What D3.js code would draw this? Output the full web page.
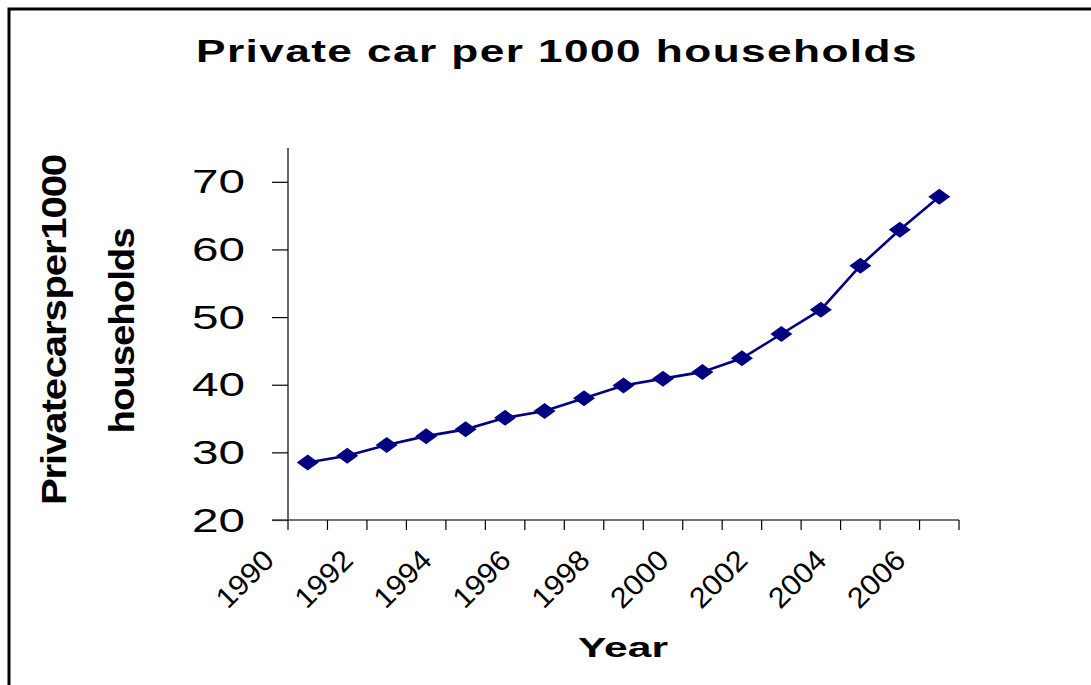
<!DOCTYPE html>
<html>
<head>
<meta charset="utf-8">
<script src="https://cdn.jsdelivr.net/npm/d3@7"></script>
<style>
  html, body { margin: 0; padding: 0; background: #fff; }
  svg { display: block; }
  text { font-family: "Liberation Sans", Arial, sans-serif; fill: #000; }
</style>
</head>
<body>
<svg id="chart" width="1091" height="685"></svg>
<script>
const years = [1990, 1991, 1992, 1993, 1994, 1995, 1996, 1997, 1998, 1999, 2000, 2001, 2002, 2003, 2004, 2005, 2006];
const carsPer1000 = [28.5, 29.5, 31.1, 32.4, 33.4, 35.1, 36.1, 38.0, 39.9, 40.9, 41.9, 43.9, 47.5, 51.1, 57.6, 62.9, 67.8];
const yTicks = [20, 30, 40, 50, 60, 70];
const xTickLabels = [1990, 1992, 1994, 1996, 1998, 2000, 2002, 2004, 2006];
const titleText = "Private car per 1000 households";
const xTitle = "Year";
const yTitleLines = ["Private cars per 1000", "households"];

const svg = d3.select("#chart");

// outer frame
svg.append("rect")
  .attr("x", 9).attr("y", 9).attr("width", 1200).attr("height", 800)
  .attr("fill", "none").attr("stroke", "#000").attr("stroke-width", 3);

const x = d3.scaleBand().domain(years).range([288, 959]).padding(0);
const y = d3.scaleLinear().domain([20, 75]).range([520, 148]);
const cx = d => x(d) + x.bandwidth() / 2;

// title
svg.append("text")
  .attr("x", 196).attr("y", 62)
  .attr("font-size", 31).attr("font-weight", "bold")
  .attr("letter-spacing", 1)
  .attr("textLength", 722).attr("lengthAdjust", "spacingAndGlyphs")
  .text(titleText);

// y axis
const yAxis = d3.axisLeft(y).tickValues(yTicks).tickSize(16).tickFormat("");
const gy = svg.append("g").attr("transform", "translate(288,0)").call(yAxis);
gy.select(".domain").attr("stroke", "#000").attr("stroke-width", 1.2)
  .attr("d", `M0,${y(75)}V${y(20)}`);
gy.selectAll(".tick line").attr("stroke", "#000").attr("stroke-width", 1.2);

svg.append("g").selectAll("text").data(yTicks).join("text")
  .attr("x", 245).attr("y", d => y(d) + 11.5)
  .attr("text-anchor", "end")
  .attr("font-size", 33)
  .attr("textLength", 53).attr("lengthAdjust", "spacingAndGlyphs")
  .text(d => d);

// x axis
const bounds = years.map(d => x(d)).concat([x(years[years.length - 1]) + x.bandwidth()]);
const gx = svg.append("g");
gx.append("line")
  .attr("x1", 272).attr("x2", bounds[bounds.length - 1])
  .attr("y1", y(20)).attr("y2", y(20))
  .attr("stroke", "#444").attr("stroke-width", 1.4);
gx.selectAll("line.tk").data(bounds).join("line").attr("class", "tk")
  .attr("x1", d => d).attr("x2", d => d)
  .attr("y1", y(20)).attr("y2", y(20) + 10)
  .attr("stroke", "#000").attr("stroke-width", 1.2);

svg.append("g").selectAll("text").data(xTickLabels).join("text")
  .attr("transform", d => `translate(${cx(d) - 32},${562}) rotate(-45)`)
  .attr("text-anchor", "end")
  .attr("font-size", 29)
  .attr("textLength", 68).attr("lengthAdjust", "spacingAndGlyphs")
  .text(d => d);

// x title
svg.append("text")
  .attr("x", 578).attr("y", 657)
  .attr("font-size", 28).attr("font-weight", "bold")
  .attr("textLength", 90).attr("lengthAdjust", "spacingAndGlyphs")
  .text(xTitle);

// y title
svg.append("text")
  .attr("transform", "translate(66,330) rotate(-90)")
  .attr("text-anchor", "middle")
  .attr("font-size", 35).attr("font-weight", "bold")
  .attr("word-spacing", -8).attr("letter-spacing", -1)
  .attr("textLength", 350).attr("lengthAdjust", "spacingAndGlyphs")
  .text(yTitleLines[0]);
svg.append("text")
  .attr("transform", "translate(134,331) rotate(-90)")
  .attr("text-anchor", "middle")
  .attr("font-size", 35).attr("font-weight", "bold")
  .attr("letter-spacing", -1)
  .attr("textLength", 205).attr("lengthAdjust", "spacingAndGlyphs")
  .text(yTitleLines[1]);

// series line
const line = d3.line().x((d, i) => cx(years[i])).y(d => y(d));
svg.append("path").datum(carsPer1000)
  .attr("d", line).attr("fill", "none")
  .attr("stroke", "#000080").attr("stroke-width", 2.6);

// diamond markers
svg.append("g").selectAll("path").data(carsPer1000).join("path")
  .attr("transform", (d, i) => `translate(${cx(years[i])},${y(d)})`)
  .attr("d", "M-11,0L0,-8L11,0L0,8Z")
  .attr("fill", "#000080");
</script>
</body>
</html>
